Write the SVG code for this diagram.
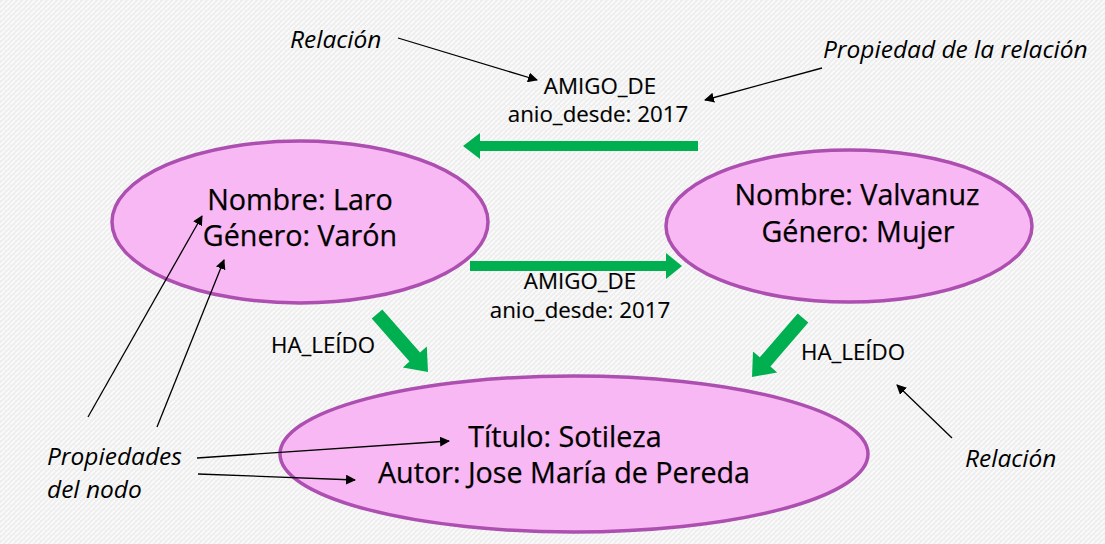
<svg xmlns="http://www.w3.org/2000/svg" width="1105" height="544" viewBox="0 0 1105 544">
<defs>
<pattern id="bg" width="5" height="5" patternUnits="userSpaceOnUse">
<rect width="5" height="5" fill="#eeeeee"/>
<path d="M-1,6 L6,-1" stroke="#fbfbfb" stroke-width="1.6"/>
</pattern>
<marker id="ah" viewBox="0 0 10 10" refX="9" refY="5" markerWidth="10" markerHeight="10" markerUnits="userSpaceOnUse" orient="auto">
<path d="M0,0 L10,5 L0,10 z" fill="#000"/>
</marker>
<style>
.node{fill:#f8b8f3;stroke:#ad4fb0;stroke-width:3.5}
.nt{font-family:"Open Sans","DejaVu Sans",sans-serif;font-size:28.7px;fill:#000;stroke:#000;stroke-width:0.25;text-anchor:middle}
.rt{font-family:"Open Sans","DejaVu Sans",sans-serif;font-size:22.3px;fill:#000;stroke:#000;stroke-width:0.15;text-anchor:middle}
.it{font-family:"Open Sans","DejaVu Sans",sans-serif;font-size:24.5px;font-style:italic;fill:#000}
.g{fill:#00b050}
.ln{stroke:#000;stroke-width:1.3;fill:none;marker-end:url(#ah)}
</style>
</defs>
<rect width="1105" height="544" fill="url(#bg)"/>

<g id="node-laro">
<ellipse class="node" cx="300" cy="222" rx="188" ry="81"/>
<text class="nt" x="300" y="210">Nombre: Laro</text>
<text class="nt" x="300" y="246">Género: Varón</text>
</g>
<g id="node-valvanuz">
<ellipse class="node" cx="849" cy="226" rx="183" ry="76"/>
<text class="nt" x="857" y="205">Nombre: Valvanuz</text>
<text class="nt" x="858" y="242">Género: Mujer</text>
</g>
<g id="node-sotileza">
<ellipse class="node" cx="574" cy="454" rx="294" ry="78"/>
<text class="nt" x="565" y="447">Título: Sotileza</text>
<text class="nt" x="564" y="483">Autor: Jose María de Pereda</text>
</g>

<g id="connectors">
<polygon class="g" points="698,141 480,141 480,133 463,146 480,159 480,151 698,151"/>
<polygon class="g" points="470,261 666,261 666,253 682,266 666,279 666,271 470,271"/>
<polygon class="g" points="382.3,309.4 420.1,352.4 426.8,346.4 428,372 402.8,367.6 409.5,361.6 371.7,318.6"/>
<polygon class="g" points="797.7,313.4 759.8,357.3 753,351.4 752,377 777.2,372.4 770.4,366.5 808.3,322.6"/>
<text class="rt" x="600" y="94">AMIGO_DE</text>
<text class="rt" x="598" y="122">anio_desde: 2017</text>
<text class="rt" x="580" y="289">AMIGO_DE</text>
<text class="rt" x="580" y="318">anio_desde: 2017</text>
<text class="rt" x="323" y="353">HA_LEÍDO</text>
<text class="rt" x="853" y="360">HA_LEÍDO</text>
</g>

<g id="annotations">
<text class="it" x="290" y="48">Relación</text>
<text class="it" x="823" y="58">Propiedad de la relación</text>
<text class="it" x="47" y="465">Propiedades</text>
<text class="it" x="47" y="498">del nodo</text>
<text class="it" x="965" y="467">Relación</text>
<line class="ln" x1="398" y1="38" x2="537" y2="80"/>
<line class="ln" x1="822" y1="68" x2="705" y2="100"/>
<line class="ln" x1="88" y1="417" x2="202" y2="216"/>
<line class="ln" x1="157" y1="427" x2="224" y2="260"/>
<line class="ln" x1="197" y1="458" x2="449" y2="441"/>
<line class="ln" x1="198" y1="474" x2="355" y2="480"/>
<line class="ln" x1="952" y1="438" x2="897" y2="385"/>
</g>
</svg>
